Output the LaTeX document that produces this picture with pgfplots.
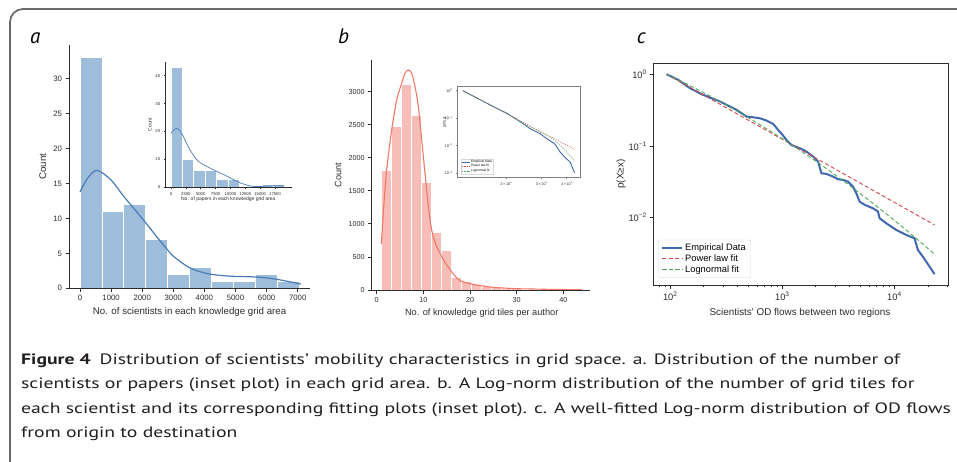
\documentclass[border=0pt]{standalone}
\usepackage{fontspec}
\setmainfont{Liberation Sans}
\newfontfamily\capfont{PT Sans}
\usepackage{pgfplots}
\pgfplotsset{compat=1.18}
\usepackage{graphicx}

\definecolor{framegray}{RGB}{105,105,105}
\definecolor{spine}{RGB}{45,45,45}
\definecolor{abar}{RGB}{158,189,218}
\definecolor{akde}{RGB}{74,124,184}
\definecolor{bbar}{RGB}{249,189,183}
\definecolor{bkde}{RGB}{240,120,104}
\definecolor{cblue}{RGB}{64,104,176}
\definecolor{cred}{RGB}{214,70,70}
\definecolor{cgreen}{RGB}{80,168,88}
\definecolor{captext}{RGB}{35,31,32}
\definecolor{legframe}{RGB}{215,215,215}

\newcommand\sups[1]{\raisebox{0.42em}{\scalebox{0.7}{#1}}}

\pgfplotsset{
  histo/.style={
    scale only axis, anchor=south west, axis on top,
    axis x line*=bottom, axis y line*=left,
    axis line style={spine, line width=0.9pt, -},
    tick align=outside,
    tick style={spine, line width=0.8pt},
    major tick length=3.5pt,
    /pgf/number format/assume math mode=true,
    /pgf/number format/1000 sep={},
    scaled ticks=false,
    tick label style={text=spine},
    label style={text=spine},
  },
  mylogstyle/.style={
    scale only axis, anchor=south west,
    axis line style={spine, line width=0.8pt},
    tick align=outside, tick pos=left,
    tick style={spine, line width=0.7pt},
    tick label style={text=spine},
    label style={text=spine},
    legend cell align=left,
  },
}

\newsavebox\capbox
\begin{document}
\sbox\capbox{\capfont\fontsize{15}{18}\selectfont each scientist and its corresponding fitting plots (inset plot). c. A well-fitted Log-norm distribution of OD flows}%
\pgfmathsetmacro\capsx{929.7/\the\wd\capbox}%
\begin{tikzpicture}
\useasboundingbox (0,0) rectangle (957pt,-462pt);
\fill[white] (0,0) rectangle (957pt,-462pt);
\draw[framegray, line width=1.7pt, rounded corners=13pt] (10pt,-480pt) -- (10pt,-9pt) -- (980pt,-9pt);

% panel letters
\node[anchor=base west, inner sep=0pt] at (30pt,-43.3pt) {\capfont\itshape\fontsize{21}{24}\selectfont a};
\node[anchor=base west, inner sep=0pt] at (338pt,-43.3pt) {\capfont\itshape\fontsize{21}{24}\selectfont b};
\node[anchor=base west, inner sep=0pt] at (636.7pt,-43.3pt) {\capfont\itshape\fontsize{21}{24}\selectfont c};

% ---------------- panel a ----------------
\begin{axis}[histo, at={(69pt,-288.3pt)}, width=241pt, height=243pt,
  xmin=-354, xmax=7396, ymin=0, ymax=34.8,
  xtick={0,1000,...,7000}, ytick={0,5,...,30},
  tick label style={font=\fontsize{7.8}{9}\selectfont},
  label style={font=\fontsize{9.7}{11}\selectfont},
  xlabel={No. of scientists in each knowledge grid area},
  ylabel={Count},
  xlabel style={at={(axis description cs:0.5,-0.099)}, anchor=center},
  ylabel style={at={(axis description cs:-0.109,0.5)}, anchor=center},
]
\addplot[ybar interval, fill=abar, draw=white, line width=0.8pt] coordinates {
(0,33) (705,11) (1410,12) (2115,7) (2820,2) (3525,3) (4230,1) (4935,1) (5640,2) (6345,1) (7050,1)};
\addplot[akde, line width=1.2pt, smooth] coordinates {
(0,13.8) (250,15.8) (550,16.9) (1000,15.5) (1400,13.2) (2000,10.0) (2500,7.2) (2800,5.6) (3000,4.6) (3500,3.0) (4000,2.2) (4500,1.85) (5000,1.7) (5500,1.65) (6000,1.5) (6500,1.15) (7100,0.6)};
\end{axis}

% inset a
\begin{axis}[histo, at={(165.7pt,-187.3pt)}, width=126pt, height=125.6pt,
  xmin=-890, xmax=20300, ymin=0, ymax=45,
  xtick={0,2500,...,17500}, ytick={0,10,...,40},
  axis line style={line width=0.6pt}, tick style={line width=0.5pt},
  major tick length=2pt,
  tick label style={font=\fontsize{4.2}{5}\selectfont},
  label style={font=\fontsize{5}{6}\selectfont},
  xlabel={No. of papers in each knowledge grid area},
  ylabel={Count},
  xlabel style={at={(axis description cs:0.497,-0.093)}, anchor=center},
  ylabel style={at={(axis description cs:-0.125,0.5)}, anchor=center},
]
\addplot[ybar interval, fill=abar, draw=white, line width=0.5pt] coordinates {
(0,43) (1910,10) (3820,6) (5730,6) (7640,3) (9550,3) (11460,0) (13370,0) (15280,1) (17190,1) (19100,1)};
\addplot[akde, line width=0.7pt, smooth] coordinates {
(0,19.4) (500,20.6) (950,21.1) (1500,20.3) (2000,18.5) (3200,13.4) (4500,9.5) (6000,7.5) (7600,5.8) (9500,3.9) (11500,1.7) (13300,0.5) (14500,0.25) (16000,0.4) (17500,0.55) (19000,0.55)};
\end{axis}

% ---------------- panel b ----------------
\begin{axis}[histo, at={(371.7pt,-290pt)}, width=218.3pt, height=230pt,
  xmin=-1.07, xmax=45.7, ymin=0, ymax=3479,
  xtick={0,10,...,40}, ytick={0,500,...,3000},
  tick label style={font=\fontsize{7.2}{9}\selectfont},
  label style={font=\fontsize{9.2}{11}\selectfont},
  xlabel={No. of knowledge grid tiles per author},
  ylabel={Count},
  xlabel style={at={(axis description cs:0.504,-0.099)}, anchor=center},
  ylabel style={at={(axis description cs:-0.154,0.5)}, anchor=center},
]
\addplot[ybar interval, fill=bbar, draw=white, line width=0.8pt] coordinates {
(1,1815) (3.15,2471) (5.3,3111) (7.45,2647) (9.6,1624) (11.75,870) (13.9,605) (16.05,190) (18.2,130) (20.35,78) (22.5,50) (24.65,35) (26.8,25) (28.95,18) (31.1,14) (33.25,10) (35.4,8) (37.55,6) (39.7,4) (41.85,3) (44,3)};
\addplot[bkde, line width=1.1pt, smooth, tension=0.5] coordinates {
(1,696) (1.5,1250) (2.14,1815) (3.21,2420) (4.29,2874) (5.36,3127) (6.07,3278) (6.79,3328) (7.5,3278) (8.21,3076) (8.93,2774) (9.64,2269) (10.36,1765) (11.07,1261) (11.8,900) (12.6,700) (13.6,550) (14.6,420) (15.7,310) (16.8,210) (17.9,140) (20,95) (22,70) (25,40) (30,20) (33.4,15) (36.9,10) (42.6,5) (44,4)};
\end{axis}

% inset b
\begin{loglogaxis}[mylogstyle, at={(457pt,-177pt)}, width=123pt, height=91pt,
  xmin=11.4, xmax=46.6, ymin=0.000708, ymax=1.48,
  axis line style={gray, line width=0.6pt},
  tick style={gray, line width=0.4pt}, major tick length=1.5pt,
  xtick={20,30,40}, xticklabels={2\,×\,10\sups{1}, 3\,×\,10\sups{1}, 4\,×\,10\sups{1}},
  ytick={1,0.1,0.01,0.001}, yticklabels={10\sups{0},10\sups{−1},10\sups{−2},10\sups{−3}},
  minor xtick={}, minor ytick={},
  tick label style={font=\fontsize{3.8}{4.5}\selectfont},
  label style={font=\fontsize{3.8}{4.5}\selectfont},
  ylabel={p(X≥x)},
  ylabel style={at={(axis description cs:-0.1,0.6)}, anchor=center},
  legend style={at={(0.03,0.03)}, anchor=south west, font=\fontsize{3.2}{3.8}\selectfont,
    draw=legframe, inner sep=0.6pt, row sep=-0.6pt, nodes={inner sep=0.6pt}},
  legend image code/.code={\draw[mark repeat=2,mark phase=2,#1] plot coordinates {(0pt,0pt) (4pt,0pt) (8pt,0pt)};},
]
\addplot[color=cblue, line width=0.9pt] coordinates {
(12.2,1) (14,0.59) (16,0.35) (18,0.225) (20,0.155) (22,0.1) (24.2,0.0638) (26.2,0.0419) (29.4,0.0275) (31.8,0.018) (35,0.0112) (37.1,0.0058) (39.3,0.0036) (41.6,0.0025) (43.8,0.001)};
\addlegendentry{Empirical Data}
\addplot[color=cred, line width=0.4pt, dash pattern=on 1.5pt off 1pt] coordinates {(12.2,1) (43.8,0.00724)};
\addlegendentry{Power law fit}
\addplot[color=cgreen, line width=0.4pt, dash pattern=on 1.5pt off 1pt, smooth] coordinates {
(12.2,1) (16,0.35) (20,0.15) (24.2,0.065) (29.4,0.0316) (35.6,0.0136) (43.8,0.00274)};
\addlegendentry{Lognormal fit}
\end{loglogaxis}

% ---------------- panel c ----------------
\begin{loglogaxis}[mylogstyle, at={(653.3pt,-285pt)}, width=295pt, height=221.7pt,
  xmin=71, xmax=30400, ymin=0.00115, ymax=1.42,
  major tick length=3.5pt, minor tick length=2pt,
  xtick={100,1000,10000}, xticklabels={10\sups{2},10\sups{3},10\sups{4}},
  minor xtick={80,90,200,300,400,500,600,700,800,900,2000,3000,4000,5000,6000,7000,8000,9000,20000,30000},
  ytick={1,0.1,0.01}, yticklabels={10\sups{0},10\sups{−1},10\sups{−2}},
  minor ytick={},
  tick label style={font=\fontsize{9.3}{11}\selectfont},
  label style={font=\fontsize{9.9}{12}\selectfont},
  xlabel={Scientists\textquotesingle{} OD flows between two regions},
  ylabel={p(X≥x)},
  xlabel style={at={(axis description cs:0.497,-0.125)}, anchor=center},
  ylabel style={at={(axis description cs:-0.109,0.5)}, anchor=center},
  legend style={at={(0.016,0.032)}, anchor=south west, font=\fontsize{9.3}{11}\selectfont,
    draw=legframe, rounded corners=2pt, row sep=-1.5pt},
  legend image code/.code={\draw[mark repeat=2,mark phase=2,#1] plot coordinates {(0pt,0pt) (10pt,0pt) (20pt,0pt)};},
]
\addplot[color=cblue, line width=2pt] coordinates {
(93.3,1.0) (118.6,0.834) (150.7,0.638) (198,0.515) (279,0.416) (393,0.318) (482,0.257) (552,0.251) (633,0.243) (726,0.226) (832,0.203) (922,0.167) (1008,0.143) (1094,0.121) (1211,0.103) (1438,0.0929) (1649,0.0834) (1890,0.0711) (2094,0.0605) (2244,0.0416) (2485,0.0407) (2848,0.0374) (3155,0.0343) (3494,0.0336) (3871,0.0318) (4292,0.0271) (4594,0.0219) (4921,0.0167) (5449,0.0151) (6468,0.0135) (7165,0.0122) (7416,0.00981) (8497,0.00836) (10430,0.00675) (12800,0.00574) (15200,0.00516) (16260,0.00355) (18030,0.00286) (22910,0.00163)};
\addlegendentry{Empirical Data}
\addplot[color=cred, line width=0.9pt, dash pattern=on 4pt off 2.5pt] coordinates {(93.3,1.0) (22910,0.00792)};
\addlegendentry{Power law fit}
\addplot[color=cgreen, line width=0.9pt, dash pattern=on 4pt off 2.5pt, smooth] coordinates {
(93.3,1.0) (148,0.704) (234,0.484) (372,0.324) (589,0.212) (933,0.136) (1479,0.0847) (2344,0.0515) (3715,0.0306) (5888,0.0177) (9333,0.01005) (14790,0.00556) (22910,0.00309)};
\addlegendentry{Lognormal fit}
\end{loglogaxis}

% ---------------- caption ----------------
\begin{scope}[every node/.style={anchor=base west, inner sep=0pt, text=captext, font=\capfont\fontsize{15}{18}\selectfont}]
\node at (21pt,-364pt) {\scalebox{\capsx}[1]{\textbf{Figure 4}\hspace{0.45em}Distribution of scientists’ mobility characteristics in grid space. a. Distribution of the number of}};
\node at (21pt,-388.5pt) {\scalebox{\capsx}[1]{scientists or papers (inset plot) in each grid area. b. A Log-norm distribution of the number of grid tiles for}};
\node at (21pt,-413pt) {\scalebox{\capsx}[1]{each scientist and its corresponding fitting plots (inset plot). c. A well-fitted Log-norm distribution of OD flows}};
\node at (21pt,-437.3pt) {\scalebox{\capsx}[1]{from origin to destination}};
\end{scope}
\end{tikzpicture}
\end{document}
